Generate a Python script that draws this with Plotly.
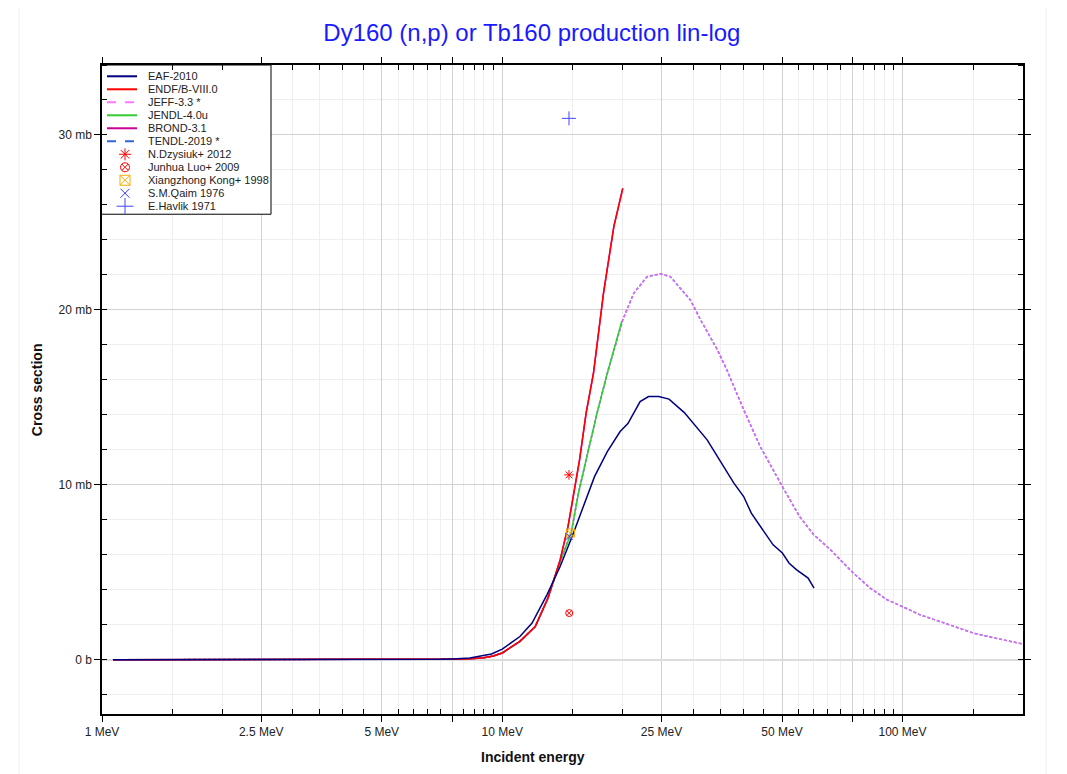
import plotly.graph_objects as go

# --- evaluated data (energy in MeV, cross section in mb) ---
eaf_e = [1.065, 3, 5, 6, 7, 7.5, 8.3, 9.4, 10, 11.07, 11.87, 12.93, 13.95, 14.95, 15.97,
         17.0, 18.3, 19.7, 20.6, 21.3, 22.1, 23.2, 24.6, 26.1, 28.5, 32.5, 37.9, 40.1,
         41.9, 47.5, 50.1, 52.1, 54.4, 58.1, 60.1]
eaf_xs = [0, 0.002, 0.005, 0.01, 0.03, 0.05, 0.1, 0.33, 0.61, 1.33, 2.1, 3.71, 5.33, 7.05, 8.76,
          10.47, 11.9, 13.05, 13.5, 14.1, 14.76, 15.05, 15.05, 14.9, 14.13, 12.57, 10.1, 9.33,
          8.38, 6.57, 6.1, 5.52, 5.14, 4.67, 4.1]

endf_e = [1.065, 3, 5, 6, 7, 7.5, 8, 8.5, 9, 9.5, 10, 11.07, 12.09, 13.0, 13.95, 14.6,
          15.05, 15.6, 16.2, 16.9, 17.9, 19.0, 20.0]
endf_xs = [0, 0, 0.002, 0.005, 0.01, 0.02, 0.04, 0.07, 0.12, 0.22, 0.39, 1.05, 1.9, 3.52, 5.71,
           7.62, 9.33, 11.43, 14.1, 16.38, 20.95, 24.76, 26.95]

jendl_e = [1.065, 3, 5, 6, 7, 7.5, 8, 8.5, 9, 9.5, 10, 11.07, 12.09, 13.0, 13.95, 14.86,
           15.5, 16.2, 17.25, 18.3, 19.0, 19.9]
jendl_xs = [0, 0, 0.002, 0.005, 0.01, 0.02, 0.04, 0.07, 0.12, 0.22, 0.39, 1.05, 1.9, 3.52, 5.6,
            7.24, 9.52, 11.43, 14.1, 16.38, 17.7, 19.37]

jeff_e = [1.065, 3, 5, 6, 7, 7.5, 8, 8.5, 9, 9.5, 10, 11.07, 12.09, 13.0, 13.95, 14.86,
          15.5, 16.2, 17.25, 18.3, 19.0, 20.0, 21.3, 23.0, 24.8, 26.3, 29.5, 31.3, 34.5,
          36.4, 40.1, 44.1, 50.1, 55.3, 60.0, 66.0, 70, 75, 83, 91.5, 100.6, 110.6,
          123.9, 150.5, 175, 200]
jeff_xs = [0, 0, 0.002, 0.005, 0.01, 0.02, 0.04, 0.07, 0.12, 0.22, 0.39, 1.05, 1.9, 3.52, 5.6,
           7.24, 9.52, 11.43, 14.1, 16.38, 17.7, 19.43, 20.95, 21.9, 22.06, 21.9, 20.57, 19.43,
           17.7, 16.57, 14.3, 12.19, 9.9, 8.19, 7.15, 6.3, 5.7, 5.0, 4.1, 3.43, 3.01,
           2.57, 2.19, 1.52, 1.18, 0.9]

# --- experimental points ---
dzysiuk_e, dzysiuk_xs = [14.68], [10.57]
luo_e, luo_xs = [14.7], [2.67]
kong_e, kong_xs = [14.8], [7.24]
qaim_e, qaim_xs = [14.7], [7.05]
havlik_e, havlik_xs = [14.68], [30.95]

x_major = [1, 2.5, 5, 7.5, 10, 25, 50, 75, 100]
x_labels = ["1 MeV", "2.5 MeV", "5 MeV", "", "10 MeV", "25 MeV", "50 MeV", "", "100 MeV"]
x_minor = [1.5, 2, 3, 3.5, 4, 4.5, 5.5, 6, 6.5, 7, 8, 8.5, 9, 9.5,
           15, 20, 30, 35, 40, 45, 55, 60, 65, 70, 80, 85, 90, 95, 150]
y_major = [0, 10, 20, 30]
y_labels = ["0 b", "10 mb", "20 mb", "30 mb"]

FONT = "Arial, Liberation Sans, sans-serif"

# legend entries: (name, colour, line dash or marker symbol, marker size)
lines_style = [
    ("EAF-2010", "#000080", "solid"),
    ("ENDF/B-VIII.0", "#ff0000", "solid"),
    ("JEFF-3.3 *", "#ff77ff", "dash"),
    ("JENDL-4.0u", "#33cc33", "solid"),
    ("BROND-3.1", "#cc0099", "solid"),
    ("TENDL-2019 *", "#3366dd", "dash"),
]
points_style = [
    ("N.Dzysiuk+ 2012", "#ff0000", "asterisk-open", 10),
    ("Junhua Luo+ 2009", "#ff0000", "circle-x-open", 9),
    ("Xiangzhong Kong+ 1998", "#ffaa00", "square-x-open", 10),
    ("S.M.Qaim 1976", "#3333ff", "x-thin-open", 9),
    ("E.Havlik 1971", "#4444ff", "cross-thin-open", 12),
]

fig = go.Figure()

# drawn first so that the lines listed later cover them
fig.add_trace(go.Scatter(x=jeff_e, y=jeff_xs, mode="lines", name="TENDL-2019 *",
                         line=dict(color="#3366dd", width=1.5, dash="3px,2px")))
fig.add_trace(go.Scatter(x=jeff_e, y=jeff_xs, mode="lines", name="JEFF-3.3 *",
                         opacity=0.88, line=dict(color="#ff66ff", width=1.5, dash="3px,2px")))
fig.add_trace(go.Scatter(x=jendl_e, y=jendl_xs, mode="lines", name="JENDL-4.0u",
                         line=dict(color="#33cc33", width=1.5)))
fig.add_trace(go.Scatter(x=endf_e, y=endf_xs, mode="lines", name="BROND-3.1",
                         line=dict(color="#cc0099", width=1.5)))
fig.add_trace(go.Scatter(x=endf_e, y=endf_xs, mode="lines", name="ENDF/B-VIII.0",
                         line=dict(color="#ff0000", width=1.5)))
fig.add_trace(go.Scatter(x=eaf_e, y=eaf_xs, mode="lines", name="EAF-2010",
                         line=dict(color="#000080", width=1.5)))

exp_sets = [(dzysiuk_e, dzysiuk_xs), (luo_e, luo_xs), (kong_e, kong_xs),
            (qaim_e, qaim_xs), (havlik_e, havlik_xs)]
for (name, color, symbol, size), (ex, ey) in zip(points_style, exp_sets):
    fig.add_trace(go.Scatter(x=ex, y=ey, mode="markers", name=name,
                             marker=dict(symbol=symbol, size=size - 2, color=color,
                                         line=dict(color=color, width=1))))

# --- compact legend box, drawn on an invisible overlay axis (0..1 = plot area) ---
# plot area in pixels: x 102..1023, y 64.7..714
def px(x):
    return (x - 102) / 921.0

def py(y):
    return (714 - y) / 649.3

box_x = [px(101), px(271), px(271), px(101), px(101)]
box_y = [py(64.7), py(64.7), py(214), py(214), py(64.7)]
fig.add_trace(go.Scatter(x=box_x, y=box_y, xaxis="x2", yaxis="y2", mode="lines",
                         fill="toself", fillcolor="white", line=dict(color="black", width=1),
                         hoverinfo="skip", cliponaxis=False))

annotations = [
    dict(text="<b>Incident energy</b>", xref="paper", yref="paper", x=px(533), y=py(757),
         xanchor="center", yanchor="middle", showarrow=False,
         font=dict(family=FONT, size=14, color="#111111")),
    dict(text="<b>Cross section</b>", xref="paper", yref="paper", x=px(37), y=py(390),
         xanchor="center", yanchor="middle", textangle=-90, showarrow=False,
         font=dict(family=FONT, size=14, color="#111111")),
]

entries = [(n, c) for n, c, _ in lines_style] + [(n, c) for n, c, _, _ in points_style]
for i, (name, color) in enumerate(entries):
    row_y = 76 + 13 * i
    if i < len(lines_style):
        dash = lines_style[i][2]
        fig.add_trace(go.Scatter(x=[px(107), px(137)], y=[py(row_y), py(row_y)],
                                 xaxis="x2", yaxis="y2", mode="lines", hoverinfo="skip",
                                 line=dict(color=color, width=2, dash=dash)))
    else:
        _, _, symbol, size = points_style[i - len(lines_style)]
        fig.add_trace(go.Scatter(x=[px(125)], y=[py(row_y)], xaxis="x2", yaxis="y2",
                                 mode="markers", hoverinfo="skip",
                                 marker=dict(symbol=symbol, size=size, color=color,
                                             line=dict(color=color, width=1))))
    annotations.append(dict(text=name, xref="paper", yref="paper", x=px(146), y=py(row_y),
                            xanchor="left", yanchor="middle", showarrow=False,
                            font=dict(family=FONT, size=11, color="#222222")))

axis_font = dict(family=FONT, size=12, color="#222222")

fig.update_layout(
    width=1067, height=774,
    # the page adds an 8px body margin, so margins are shifted by 8px
    margin=dict(l=94, r=52, t=57, b=68),
    paper_bgcolor="white", plot_bgcolor="white",
    font=dict(family=FONT, color="#222222"),
    title=dict(text="Dy160 (n,p) or Tb160 production lin-log", x=0.491, xanchor="center",
               y=1 - 25 / 774, yanchor="middle",
               font=dict(family=FONT, size=24, color="#1a1aff")),
    showlegend=False,
    xaxis=dict(type="log", range=[0, 2.301], tickmode="array", tickvals=x_major,
               ticktext=x_labels, ticks="outside", ticklen=6, tickcolor="black",
               showline=True, linecolor="black", linewidth=1.5, mirror="ticks",
               showgrid=True, gridcolor="#d2d2d2", gridwidth=1, tickfont=axis_font,
               zeroline=False,
               minor=dict(tickmode="array", tickvals=x_minor, ticks="inside", ticklen=5,
                          tickcolor="black", showgrid=True, gridcolor="#efefef")),
    yaxis=dict(range=[-3.1, 34.0], tickmode="array", tickvals=y_major, ticktext=y_labels,
               ticks="outside", ticklen=6, tickcolor="black",
               showline=True, linecolor="black", linewidth=1.5, mirror="ticks",
               showgrid=True, gridcolor="#d2d2d2", gridwidth=1, tickfont=axis_font,
               zeroline=True, zerolinecolor="#dcdcdc", zerolinewidth=2,
               minor=dict(tick0=0, dtick=2, ticks="inside", ticklen=5, tickcolor="black",
                          showgrid=True, gridcolor="#efefef")),
    xaxis2=dict(overlaying="x", anchor="y2", range=[0, 1], visible=False, fixedrange=True),
    yaxis2=dict(overlaying="y", anchor="x2", range=[0, 1], visible=False, fixedrange=True),
    annotations=annotations,
    shapes=[
        dict(type="rect", xref="paper", yref="paper", x0=-0.0901, x1=1.025, y0=-0.12, y1=1.092,
             line=dict(color="#eeeeee", width=1), fillcolor="rgba(0,0,0,0)", layer="below"),
    ],
)

fig.write_html("out.html")
